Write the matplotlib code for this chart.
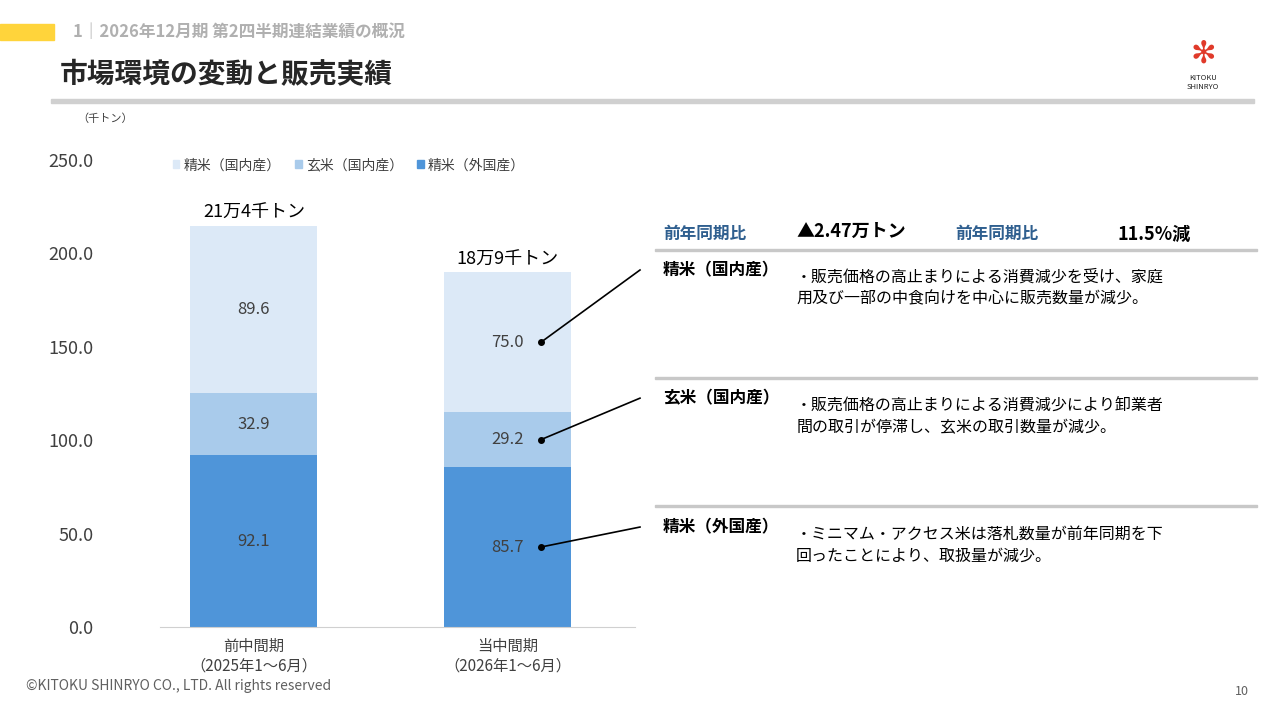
import matplotlib.pyplot as plt
from matplotlib.patches import Rectangle, Patch

plt.rcParams['font.family'] = ['Noto Sans CJK JP', 'DejaVu Sans']

periods = ['前中間期\n（2025年1～6月）', '当中間期\n（2026年1～6月）']
series = ['精米（外国産）', '玄米（国内産）', '精米（国内産）']
values = {
    '精米（外国産）': [92.1, 85.7],
    '玄米（国内産）': [32.9, 29.2],
    '精米（国内産）': [89.6, 75.0],
}
totals_label = ['21万4千トン', '18万9千トン']
colors = {'精米（外国産）': '#4f95d9', '玄米（国内産）': '#a9cbeb', '精米（国内産）': '#dce9f7'}

fig = plt.figure(figsize=(12.8, 7.2), dpi=100)
ax = fig.add_axes([0.125, 0.129, 0.371, 0.649])

x = [0, 1]
bottom = [0, 0]
mids = {}
for s in series:
    ax.bar(x, values[s], 0.5, bottom=bottom, color=colors[s])
    mids[s] = [b + v / 2 for b, v in zip(bottom, values[s])]
    for xi, b, v in zip(x, bottom, values[s]):
        ax.text(xi, b + v / 2, f'{v:.1f}', ha='center', va='center', fontsize=12, color='#404040')
    bottom = [b + v for b, v in zip(bottom, values[s])]
for xi, t, lab in zip(x, bottom, totals_label):
    ax.text(xi, t + 2, lab, ha='center', va='bottom', fontsize=13)

ax.set_xlim(-0.37, 1.5)
ax.set_ylim(0, 250)
ax.set_yticks([0, 50, 100, 150, 200, 250])
ax.set_yticklabels([f'{v:.1f}' for v in [0, 50, 100, 150, 200, 250]], fontsize=13, color='#404040')
ax.set_xticks(x)
ax.set_xticklabels(periods, fontsize=11, color='#404040')
ax.tick_params(length=0, pad=8)
ax.tick_params(axis='y', pad=48)
for sp in ['top', 'right', 'left']:
    ax.spines[sp].set_visible(False)
ax.spines['bottom'].set_color('#d0d0d0')

handles = [Patch(color=colors[s]) for s in series[::-1]]
ax.legend(handles, series[::-1], loc='upper left', bbox_to_anchor=(0.0, 1.03), ncol=3, frameon=False,
          fontsize=10, handlelength=0.5, handleheight=0.5, columnspacing=1.0, handletextpad=0.3,
          labelcolor='#404040')

# header
fig.patches.append(Rectangle((0, 0.945), 0.042, 0.022, transform=fig.transFigure, color='#ffd43b'))
fig.text(0.057, 0.955, '1｜2026年12月期 第2四半期連結業績の概況', fontsize=12, color='#b0b0b0',
         va='center', weight='bold')
fig.text(0.047, 0.895, '市場環境の変動と販売実績', fontsize=20, va='center', weight='bold', color='#262626')
fig.patches.append(Rectangle((0.04, 0.857), 0.94, 0.006, transform=fig.transFigure, color='#d0d0d0'))
fig.text(0.94, 0.885, 'KITOKU\nSHINRYO', fontsize=5.5, ha='center', va='center', color='#222222', linespacing=1.1)
fig.text(0.94, 0.925, '✻', fontsize=22, ha='center', va='center', color='#e03a2a', family='DejaVu Sans')
fig.text(0.06, 0.83, '（千トン）', fontsize=8, color='#404040')
fig.text(0.02, 0.042, '©KITOKU SHINRYO CO., LTD. All rights reserved', fontsize=10, color='#606060')
fig.text(0.965, 0.035, '10', fontsize=9, color='#606060')

# right panel
fig.text(0.518, 0.675, '前年同期比', fontsize=12, color='#2f5f8f', weight='bold', va='center')
fig.text(0.622, 0.678, '▲2.47万トン', fontsize=13, weight='bold', va='center')
fig.text(0.746, 0.675, '前年同期比', fontsize=12, color='#2f5f8f', weight='bold', va='center')
fig.text(0.873, 0.675, '11.5%減', fontsize=13, weight='bold', va='center')

rows = [
    ('精米（国内産）', 0.625, 0.651, '・販売価格の高止まりによる消費減少を受け、家庭\n用及び一部の中食向けを中心に販売数量が減少。', '精米（国内産）'),
    ('玄米（国内産）', 0.447, 0.474, '・販売価格の高止まりによる消費減少により卸業者\n間の取引が停滞し、玄米の取引数量が減少。', '玄米（国内産）'),
    ('精米（外国産）', 0.268, 0.296, '・ミニマム・アクセス米は落札数量が前年同期を下\n回ったことにより、取扱量が減少。', '精米（外国産）'),
]
for name, ty, ly, desc, key in rows:
    fig.patches.append(Rectangle((0.512, ly), 0.47, 0.003, transform=fig.transFigure, color='#c8c8c8'))
    fig.text(0.518, ty, name, fontsize=12, weight='bold', va='center')
    fig.text(0.622, ty - 0.025, desc, fontsize=11.5, va='center', linespacing=1.4)
    # leader line from bar point to label
    px, py = fig.transFigure.inverted().transform(ax.transData.transform((1.13, mids[key][1])))
    fig.add_artist(plt.Line2D([px, 0.5], [py, ty], color='black', lw=1.2, transform=fig.transFigure))
    fig.add_artist(plt.Line2D([px], [py], marker='o', ms=4, color='black', transform=fig.transFigure))

fig.savefig('out.png', dpi=100)
